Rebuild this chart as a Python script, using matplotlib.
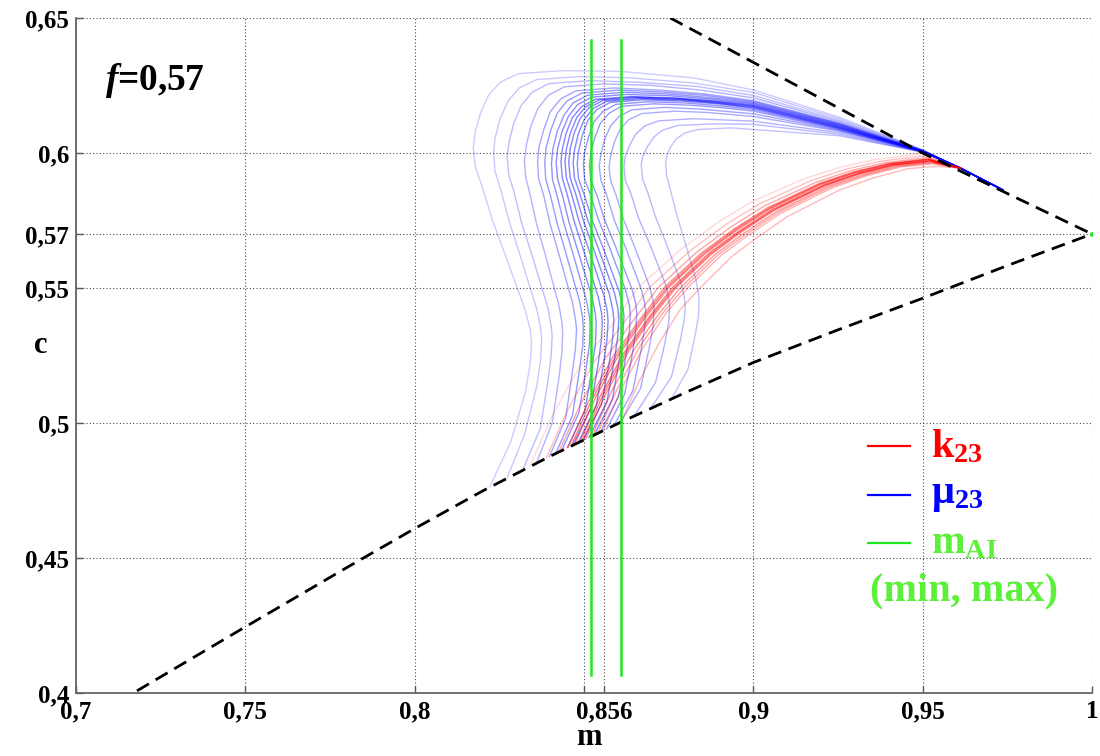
import matplotlib
matplotlib.use('Agg')
import matplotlib.pyplot as plt

# Font setup: bold Times-like serif everywhere, mathtext for the subscripts.
plt.rcParams['font.family'] = ['Liberation Serif', 'DejaVu Serif']
plt.rcParams['font.weight'] = 'bold'
plt.rcParams['mathtext.fontset'] = 'custom'
plt.rcParams['mathtext.rm'] = 'Liberation Serif:bold'
plt.rcParams['mathtext.bf'] = 'Liberation Serif:bold'
plt.rcParams['mathtext.it'] = 'Liberation Serif:bold:italic'

# Axis ticks and labels (comma as decimal separator).
x_ticks = [0.7, 0.75, 0.8, 0.85, 0.856, 0.9, 0.95, 1.0]
x_labels = ['0,7', '0,75', '0,8', '', '0,856', '0,9', '0,95', '1']
y_ticks = [0.4, 0.45, 0.5, 0.55, 0.57, 0.6, 0.65]
y_labels = ['0,4', '0,45', '0,5', '0,55', '0,57', '0,6', '0,65']

# Bounds (dashed black lines) as (m, c).
upper_bound = [(0.8755, 0.65), (0.8937, 0.6378), (0.95, 0.60), (1.0, 0.57)]
lower_bound = [(0.718, 0.4008), (0.75, 0.4245), (0.78, 0.4465), (0.80, 0.4609), (0.82, 0.4748),
               (0.84, 0.4877), (0.8607, 0.5002), (0.88, 0.5113), (0.90, 0.5224), (0.925, 0.5345),
               (0.95, 0.5462), (0.975, 0.5583), (1.0, 0.57)]

# m_AI min / max (green verticals) and their c range.
m_ai = [0.8521, 0.8609]
m_ai_c = [0.4067, 0.6419]

# mu_23 curves (blue), each from the lower bound up to the convergence point.
mu_01 = [(0.8222, 0.4764), (0.8284, 0.4931), (0.8327, 0.5114), (0.8341, 0.5219), (0.8345, 0.5297),
         (0.8342, 0.5340), (0.8328, 0.5413), (0.8267, 0.5624), (0.8229, 0.5754), (0.8199, 0.5877),
         (0.8179, 0.5950), (0.8173, 0.6022), (0.8179, 0.6079), (0.8195, 0.6150), (0.8218, 0.6214),
         (0.8253, 0.6262), (0.8306, 0.6294), (0.8439, 0.6305), (0.8610, 0.6302), (0.8825, 0.6278),
         (0.9001, 0.6233), (0.9253, 0.6133), (0.9500, 0.6012)]
mu_02 = [(0.8273, 0.4797), (0.8324, 0.4956), (0.8360, 0.5133), (0.8372, 0.5233), (0.8375, 0.5310),
         (0.8372, 0.5351), (0.8361, 0.5420), (0.8311, 0.5622), (0.8279, 0.5747), (0.8254, 0.5865),
         (0.8237, 0.5934), (0.8233, 0.6004), (0.8238, 0.6059), (0.8253, 0.6129), (0.8276, 0.6193),
         (0.8309, 0.6241), (0.8360, 0.6272), (0.8488, 0.6283), (0.8641, 0.6278), (0.8825, 0.6259),
         (0.9001, 0.6224), (0.9253, 0.6127), (0.9500, 0.6011)]
mu_03 = [(0.8319, 0.4827), (0.8371, 0.4979), (0.8393, 0.5150), (0.8403, 0.5248), (0.8406, 0.5322),
         (0.8403, 0.5361), (0.8393, 0.5428), (0.8347, 0.5620), (0.8316, 0.5740), (0.8294, 0.5853),
         (0.8278, 0.5919), (0.8273, 0.5985), (0.8279, 0.6042), (0.8293, 0.6112), (0.8315, 0.6177),
         (0.8347, 0.6225), (0.8396, 0.6257), (0.8518, 0.6268), (0.8661, 0.6262), (0.8835, 0.6246),
         (0.9001, 0.6213), (0.9253, 0.6121), (0.9500, 0.6010)]
mu_04 = [(0.8360, 0.4853), (0.8406, 0.5000), (0.8426, 0.5167), (0.8435, 0.5263), (0.8437, 0.5334),
         (0.8435, 0.5372), (0.8426, 0.5436), (0.8386, 0.5622), (0.8360, 0.5737), (0.8341, 0.5845),
         (0.8328, 0.5909), (0.8324, 0.5973), (0.8330, 0.6030), (0.8343, 0.6100), (0.8364, 0.6165),
         (0.8395, 0.6214), (0.8442, 0.6245), (0.8559, 0.6256), (0.8692, 0.6251), (0.8845, 0.6233),
         (0.9001, 0.6204), (0.9253, 0.6116), (0.9500, 0.6009)]
mu_05 = [(0.8398, 0.4876), (0.8446, 0.5018), (0.8465, 0.5183), (0.8475, 0.5276), (0.8478, 0.5347),
         (0.8475, 0.5383), (0.8466, 0.5446), (0.8426, 0.5625), (0.8400, 0.5737), (0.8381, 0.5843),
         (0.8366, 0.5905), (0.8363, 0.5967), (0.8367, 0.6022), (0.8382, 0.6090), (0.8401, 0.6154),
         (0.8431, 0.6200), (0.8476, 0.6230), (0.8588, 0.6241), (0.8722, 0.6233), (0.8855, 0.6219),
         (0.9001, 0.6194), (0.9253, 0.6111), (0.9500, 0.6009)]
mu_05b = [(0.8417, 0.4888), (0.8466, 0.5028), (0.8486, 0.5191), (0.8496, 0.5283), (0.8498, 0.5353),
          (0.8496, 0.5389), (0.8487, 0.5451), (0.8447, 0.5627), (0.8421, 0.5738), (0.8401, 0.5842),
          (0.8387, 0.5903), (0.8384, 0.5964), (0.8388, 0.6018), (0.8402, 0.6085), (0.8421, 0.6147),
          (0.8450, 0.6193), (0.8494, 0.6222), (0.8603, 0.6233), (0.8733, 0.6226), (0.8860, 0.6213),
          (0.9001, 0.6190), (0.9253, 0.6109), (0.9500, 0.6008)]
mu_06 = [(0.8435, 0.4900), (0.8485, 0.5038), (0.8506, 0.5198), (0.8516, 0.5290), (0.8518, 0.5359),
         (0.8516, 0.5394), (0.8507, 0.5455), (0.8467, 0.5629), (0.8441, 0.5738), (0.8421, 0.5840),
         (0.8407, 0.5901), (0.8404, 0.5961), (0.8408, 0.6014), (0.8421, 0.6080), (0.8441, 0.6140),
         (0.8468, 0.6186), (0.8511, 0.6214), (0.8618, 0.6225), (0.8743, 0.6219), (0.8865, 0.6206),
         (0.9001, 0.6186), (0.9253, 0.6106), (0.9500, 0.6007)]
mu_06b = [(0.8451, 0.4910), (0.8503, 0.5046), (0.8524, 0.5206), (0.8534, 0.5297), (0.8536, 0.5365),
          (0.8534, 0.5401), (0.8525, 0.5461), (0.8483, 0.5634), (0.8456, 0.5743), (0.8436, 0.5844),
          (0.8422, 0.5904), (0.8418, 0.5964), (0.8422, 0.6015), (0.8435, 0.6078), (0.8454, 0.6136),
          (0.8481, 0.6179), (0.8523, 0.6207), (0.8627, 0.6217), (0.8753, 0.6212), (0.8870, 0.6200),
          (0.9001, 0.6182), (0.9253, 0.6104), (0.9500, 0.6007)]
mu_07 = [(0.8467, 0.4919), (0.8520, 0.5054), (0.8541, 0.5213), (0.8551, 0.5303), (0.8554, 0.5371),
         (0.8552, 0.5407), (0.8542, 0.5467), (0.8499, 0.5639), (0.8471, 0.5747), (0.8450, 0.5848),
         (0.8436, 0.5907), (0.8432, 0.5967), (0.8436, 0.6015), (0.8448, 0.6076), (0.8466, 0.6132),
         (0.8493, 0.6172), (0.8534, 0.6199), (0.8636, 0.6209), (0.8763, 0.6204), (0.8875, 0.6194),
         (0.9001, 0.6178), (0.9253, 0.6101), (0.9500, 0.6007)]
mu_07b = [(0.8483, 0.4928), (0.8536, 0.5063), (0.8558, 0.5220), (0.8568, 0.5310), (0.8571, 0.5377),
          (0.8569, 0.5413), (0.8559, 0.5472), (0.8514, 0.5643), (0.8485, 0.5749), (0.8463, 0.5849),
          (0.8448, 0.5908), (0.8444, 0.5967), (0.8448, 0.6015), (0.8460, 0.6075), (0.8478, 0.6130),
          (0.8504, 0.6170), (0.8545, 0.6197), (0.8645, 0.6207), (0.8774, 0.6202), (0.8881, 0.6191),
          (0.9001, 0.6175), (0.9253, 0.6099), (0.9500, 0.6007)]
mu_08 = [(0.8498, 0.4937), (0.8552, 0.5071), (0.8575, 0.5227), (0.8585, 0.5317), (0.8588, 0.5383),
         (0.8585, 0.5419), (0.8575, 0.5477), (0.8528, 0.5646), (0.8498, 0.5751), (0.8475, 0.5850),
         (0.8459, 0.5909), (0.8455, 0.5967), (0.8459, 0.6015), (0.8471, 0.6074), (0.8489, 0.6128),
         (0.8515, 0.6168), (0.8555, 0.6194), (0.8654, 0.6204), (0.8784, 0.6199), (0.8886, 0.6188),
         (0.9001, 0.6172), (0.9253, 0.6096), (0.9500, 0.6006)]
mu_08b = [(0.8515, 0.4947), (0.8568, 0.5080), (0.8590, 0.5235), (0.8600, 0.5324), (0.8603, 0.5390),
          (0.8600, 0.5425), (0.8590, 0.5482), (0.8542, 0.5648), (0.8511, 0.5752), (0.8488, 0.5849),
          (0.8472, 0.5907), (0.8468, 0.5964), (0.8472, 0.6011), (0.8483, 0.6070), (0.8501, 0.6125),
          (0.8527, 0.6165), (0.8566, 0.6191), (0.8664, 0.6201), (0.8789, 0.6196), (0.8891, 0.6185),
          (0.9001, 0.6169), (0.9253, 0.6094), (0.9500, 0.6006)]
mu_09 = [(0.8531, 0.4957), (0.8584, 0.5089), (0.8605, 0.5242), (0.8615, 0.5331), (0.8618, 0.5396),
         (0.8615, 0.5430), (0.8604, 0.5487), (0.8556, 0.5650), (0.8524, 0.5752), (0.8500, 0.5848),
         (0.8484, 0.5904), (0.8480, 0.5961), (0.8484, 0.6007), (0.8495, 0.6066), (0.8512, 0.6122),
         (0.8538, 0.6161), (0.8577, 0.6187), (0.8673, 0.6197), (0.8794, 0.6192), (0.8896, 0.6182),
         (0.9001, 0.6166), (0.9253, 0.6092), (0.9500, 0.6006)]
mu_09b = [(0.8549, 0.4968), (0.8602, 0.5098), (0.8624, 0.5250), (0.8634, 0.5338), (0.8637, 0.5402),
          (0.8634, 0.5436), (0.8623, 0.5491), (0.8575, 0.5652), (0.8543, 0.5752), (0.8519, 0.5846),
          (0.8502, 0.5902), (0.8498, 0.5958), (0.8502, 0.6004), (0.8514, 0.6062), (0.8530, 0.6116),
          (0.8556, 0.6154), (0.8594, 0.6180), (0.8689, 0.6190), (0.8804, 0.6185), (0.8901, 0.6175),
          (0.9001, 0.6161), (0.9253, 0.6090), (0.9500, 0.6006)]
mu_10 = [(0.8567, 0.4978), (0.8620, 0.5107), (0.8643, 0.5257), (0.8653, 0.5344), (0.8656, 0.5408),
         (0.8653, 0.5441), (0.8642, 0.5495), (0.8593, 0.5654), (0.8561, 0.5752), (0.8538, 0.5844),
         (0.8520, 0.5899), (0.8516, 0.5955), (0.8520, 0.6000), (0.8532, 0.6057), (0.8548, 0.6109),
         (0.8574, 0.6147), (0.8610, 0.6173), (0.8705, 0.6182), (0.8814, 0.6177), (0.8906, 0.6168),
         (0.9001, 0.6155), (0.9253, 0.6087), (0.9500, 0.6005)]
mu_10b = [(0.8588, 0.4990), (0.8644, 0.5118), (0.8668, 0.5266), (0.8679, 0.5351), (0.8682, 0.5414),
          (0.8679, 0.5447), (0.8668, 0.5500), (0.8621, 0.5656), (0.8589, 0.5753), (0.8567, 0.5844),
          (0.8550, 0.5898), (0.8545, 0.5952), (0.8550, 0.5995), (0.8561, 0.6050), (0.8578, 0.6099),
          (0.8604, 0.6136), (0.8641, 0.6160), (0.8737, 0.6169), (0.8840, 0.6163), (0.9001, 0.6145),
          (0.9253, 0.6084), (0.9500, 0.6005)]
mu_11 = [(0.8608, 0.5002), (0.8667, 0.5128), (0.8692, 0.5274), (0.8704, 0.5358), (0.8707, 0.5420),
         (0.8704, 0.5452), (0.8694, 0.5505), (0.8648, 0.5657), (0.8617, 0.5753), (0.8595, 0.5843),
         (0.8579, 0.5896), (0.8574, 0.5948), (0.8579, 0.5990), (0.8590, 0.6042), (0.8607, 0.6089),
         (0.8633, 0.6124), (0.8671, 0.6146), (0.8768, 0.6155), (0.8865, 0.6150), (0.9001, 0.6135),
         (0.9253, 0.6081), (0.9500, 0.6004)]
mu_12 = [(0.8649, 0.5027), (0.8711, 0.5149), (0.8738, 0.5290), (0.8750, 0.5372), (0.8753, 0.5432),
         (0.8750, 0.5463), (0.8740, 0.5516), (0.8693, 0.5666), (0.8661, 0.5759), (0.8639, 0.5848),
         (0.8622, 0.5899), (0.8618, 0.5951), (0.8622, 0.5987), (0.8635, 0.6029), (0.8653, 0.6070),
         (0.8680, 0.6101), (0.8720, 0.6119), (0.8823, 0.6127), (0.9001, 0.6118), (0.9253, 0.6075),
         (0.9500, 0.6004)]
mu_13 = [(0.8697, 0.5054), (0.8758, 0.5170), (0.8784, 0.5304), (0.8796, 0.5381), (0.8799, 0.5439),
         (0.8796, 0.5469), (0.8786, 0.5521), (0.8741, 0.5671), (0.8711, 0.5764), (0.8689, 0.5851),
         (0.8673, 0.5903), (0.8669, 0.5955), (0.8673, 0.5985), (0.8687, 0.6023), (0.8706, 0.6059),
         (0.8733, 0.6085), (0.8777, 0.6102), (0.8884, 0.6108), (0.9001, 0.6106), (0.9253, 0.6069),
         (0.9500, 0.6003)]
mu_14 = [(0.8758, 0.5089), (0.8807, 0.5199), (0.8828, 0.5324), (0.8838, 0.5397), (0.8840, 0.5451),
         (0.8838, 0.5482), (0.8830, 0.5533), (0.8795, 0.5683), (0.8773, 0.5776), (0.8755, 0.5864),
         (0.8744, 0.5915), (0.8741, 0.5967), (0.8745, 0.5993), (0.8756, 0.6023), (0.8773, 0.6053),
         (0.8799, 0.6075), (0.8838, 0.6087), (0.8935, 0.6093), (0.9253, 0.6064), (0.9500, 0.6003)]
mu_tail = [(0.9610, 0.5945), (0.9737, 0.5863)]

# k_23 curves (red).
k_01 = [(0.8340, 0.4839), (0.8406, 0.5027), (0.8488, 0.5211), (0.8580, 0.5359), (0.8661, 0.5503),
        (0.8784, 0.5641), (0.8906, 0.5752), (0.9001, 0.5823), (0.9151, 0.5905), (0.9253, 0.5946),
        (0.9355, 0.5975), (0.9500, 0.5998)]
k_02 = [(0.8389, 0.4871), (0.8452, 0.5049), (0.8530, 0.5227), (0.8617, 0.5370), (0.8694, 0.5503),
        (0.8812, 0.5637), (0.8923, 0.5739), (0.9019, 0.5812), (0.9169, 0.5897), (0.9271, 0.5939),
        (0.9373, 0.5969), (0.9507, 0.5990)]
k_03 = [(0.8426, 0.4893), (0.8488, 0.5066), (0.8563, 0.5239), (0.8645, 0.5379), (0.8720, 0.5503),
        (0.8833, 0.5633), (0.8936, 0.5728), (0.9033, 0.5804), (0.9184, 0.5891), (0.9286, 0.5934),
        (0.9388, 0.5964), (0.9513, 0.5983)]
k_04 = [(0.8453, 0.4909), (0.8513, 0.5079), (0.8586, 0.5247), (0.8666, 0.5385), (0.8738, 0.5503),
        (0.8848, 0.5631), (0.8946, 0.5721), (0.9043, 0.5798), (0.9194, 0.5887), (0.9296, 0.5930),
        (0.9398, 0.5961), (0.9516, 0.5978)]
k_04b = [(0.8462, 0.4915), (0.8522, 0.5083), (0.8595, 0.5250), (0.8673, 0.5387), (0.8745, 0.5503),
         (0.8854, 0.5630), (0.8950, 0.5719), (0.9047, 0.5796), (0.9198, 0.5886), (0.9300, 0.5929),
         (0.9402, 0.5960), (0.9518, 0.5977)]
k_05 = [(0.8472, 0.4920), (0.8531, 0.5087), (0.8603, 0.5253), (0.8680, 0.5389), (0.8751, 0.5503),
        (0.8859, 0.5629), (0.8953, 0.5716), (0.9050, 0.5794), (0.9201, 0.5884), (0.9303, 0.5927),
        (0.9405, 0.5959), (0.9519, 0.5975)]
k_06 = [(0.8489, 0.4931), (0.8546, 0.5095), (0.8617, 0.5258), (0.8692, 0.5393), (0.8762, 0.5503),
        (0.8868, 0.5628), (0.8958, 0.5711), (0.9056, 0.5791), (0.9207, 0.5881), (0.9309, 0.5925),
        (0.9411, 0.5957), (0.9522, 0.5972)]
k_06b = [(0.8497, 0.4936), (0.8554, 0.5099), (0.8624, 0.5261), (0.8698, 0.5395), (0.8768, 0.5503),
         (0.8873, 0.5627), (0.8961, 0.5709), (0.9059, 0.5789), (0.9210, 0.5880), (0.9312, 0.5924),
         (0.9414, 0.5956), (0.9523, 0.5971)]
k_07 = [(0.8505, 0.4940), (0.8562, 0.5102), (0.8631, 0.5264), (0.8704, 0.5396), (0.8773, 0.5503),
        (0.8877, 0.5626), (0.8964, 0.5707), (0.9061, 0.5787), (0.9213, 0.5879), (0.9315, 0.5923),
        (0.9417, 0.5955), (0.9524, 0.5969)]
k_08 = [(0.8524, 0.4951), (0.8579, 0.5111), (0.8647, 0.5270), (0.8719, 0.5401), (0.8786, 0.5503),
        (0.8888, 0.5625), (0.8971, 0.5702), (0.9068, 0.5783), (0.9220, 0.5876), (0.9322, 0.5920),
        (0.9424, 0.5953), (0.9527, 0.5966)]
k_08b = [(0.8540, 0.4961), (0.8595, 0.5118), (0.8661, 0.5275), (0.8731, 0.5405), (0.8797, 0.5503),
         (0.8897, 0.5624), (0.8977, 0.5698), (0.9074, 0.5780), (0.9227, 0.5874), (0.9329, 0.5918),
         (0.9431, 0.5951), (0.9529, 0.5963)]
k_09 = [(0.8556, 0.4970), (0.8610, 0.5125), (0.8675, 0.5280), (0.8743, 0.5408), (0.8808, 0.5503),
        (0.8906, 0.5622), (0.8982, 0.5693), (0.9080, 0.5776), (0.9233, 0.5871), (0.9335, 0.5916),
        (0.9437, 0.5949), (0.9531, 0.5960)]
k_10 = [(0.8610, 0.5004), (0.8661, 0.5150), (0.8722, 0.5297), (0.8784, 0.5420), (0.8845, 0.5503),
        (0.8937, 0.5617), (0.9001, 0.5678), (0.9100, 0.5764), (0.9253, 0.5862), (0.9355, 0.5908),
        (0.9457, 0.5942), (0.9539, 0.5951)]
k_tail = [(0.9610, 0.5944)]

mu_curves = [mu_01, mu_02, mu_03, mu_04, mu_05, mu_05b, mu_06, mu_06b, mu_07, mu_07b,
             mu_08, mu_08b, mu_09, mu_09b, mu_10, mu_10b, mu_11, mu_12, mu_13, mu_14]
k_curves = [k_01, k_02, k_03, k_04, k_04b, k_05, k_06, k_06b, k_07, k_08, k_08b, k_09, k_10]

# Line transparency per curve (style only).
mu_alpha = [0.2, 0.22, 0.26, 0.3, 0.35, 0.4, 0.42, 0.45, 0.48, 0.48,
            0.48, 0.48, 0.45, 0.42, 0.4, 0.36, 0.33, 0.3, 0.27, 0.24]
k_alpha = [0.15, 0.25, 0.35, 0.45, 0.5, 0.5, 0.5, 0.5, 0.45, 0.4, 0.35, 0.3, 0.28]

green_line = '#1fe81f'
green_text = '#5cf03a'

fig, ax = plt.subplots(figsize=(11, 7.56), dpi=100)
fig.subplots_adjust(left=0.0691, right=0.9927, bottom=0.0833, top=0.9762)

# Curve families.
for curve, a in zip(mu_curves, mu_alpha):
    pts = curve + mu_tail
    ax.plot([p[0] for p in pts], [p[1] for p in pts], color='blue', lw=1.0, alpha=a)
for curve, a in zip(k_curves, k_alpha):
    pts = curve + k_tail
    ax.plot([p[0] for p in pts], [p[1] for p in pts], color='red', lw=1.0, alpha=a)

# Bounds.
ax.plot([p[0] for p in upper_bound], [p[1] for p in upper_bound], color='k', lw=2.0,
        linestyle=(0, (5, 2.8)))
ax.plot([p[0] for p in lower_bound], [p[1] for p in lower_bound], color='k', lw=2.0,
        linestyle=(0, (5, 2.8)))

# m_AI limits.
for m in m_ai:
    ax.plot([m, m], m_ai_c, color=green_line, lw=1.8)
ax.plot([1.0], [0.57], marker='o', ms=2.5, color=green_line)

# Axes formatting.
ax.set_xlim(0.7, 1.0)
ax.set_ylim(0.4, 0.65)
ax.set_xticks(x_ticks)
ax.set_xticklabels(x_labels)
ax.set_yticks(y_ticks)
ax.set_yticklabels(y_labels)
ax.tick_params(direction='in', length=5, width=1, color='0.35', labelsize=18, pad=5)
ax.grid(True, linestyle=(0, (1, 2)), color='0.3', lw=0.8)
ax.set_axisbelow(True)
for side in ['top', 'right']:
    ax.spines[side].set_visible(False)
for side in ['left', 'bottom']:
    ax.spines[side].set_color('0.4')
    ax.spines[side].set_linewidth(1.3)

ax.set_xlabel('m', fontsize=22, fontweight='bold')
ax.xaxis.set_label_coords(0.505, -0.045)
ax.set_ylabel('c', fontsize=22, fontweight='bold', rotation=0, va='center')
ax.yaxis.set_label_coords(-0.035, 0.515)

# Annotation and hand-made legend.
ax.text(0.0285, 0.893, r'$f$=0,57', transform=ax.transAxes, fontsize=27, fontweight='bold',
        va='baseline', ha='left')

leg_rows = [(0.366, 0.3496, r'$\mathbf{k_{23}}$', 'red'),
            (0.2933, 0.2815, r'$\mathbf{\mu_{23}}$', 'blue'),
            (0.2222, 0.2074, r'$\mathbf{m_{AI}}$', green_text)]
for ly, ty, label, col in leg_rows:
    line_col = green_line if col == green_text else col
    ax.plot([0.7795, 0.8209], [ly, ly], transform=ax.transAxes, color=line_col, lw=1.6)
    ax.text(0.8415, ty, label, transform=ax.transAxes, fontsize=29, color=col,
            va='baseline', ha='left')
ax.text(0.7815, 0.1378, '(min, max)', transform=ax.transAxes, fontsize=29, color=green_text,
        fontweight='bold', va='baseline', ha='left')

plt.savefig('out.png', dpi=100)
plt.close()
